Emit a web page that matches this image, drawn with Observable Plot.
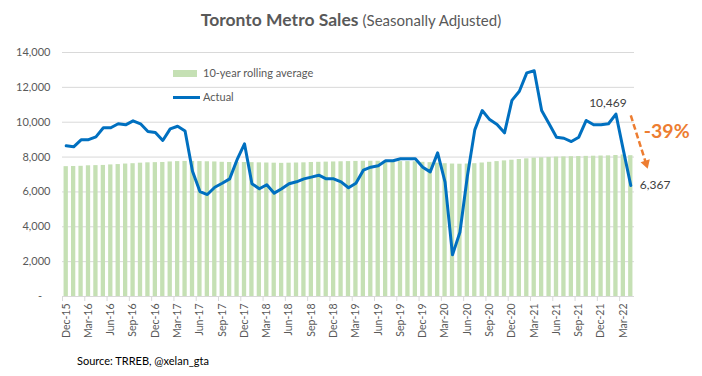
<!DOCTYPE html>
<html>
<head>
<meta charset="utf-8">
<script src="https://cdn.jsdelivr.net/npm/d3@7"></script>
<script src="https://cdn.jsdelivr.net/npm/@observablehq/plot@0.6"></script>
<style>
  html, body { margin: 0; padding: 0; background: #fff; }
  #wrap { position: relative; width: 702px; height: 376px; font-family: Lato, "Open Sans", sans-serif; color: #595959; overflow: hidden; }
  #title { position: absolute; left: 0; width: 702px; top: 9px; text-align: center; white-space: nowrap; }
  #title b { font-size: 17.5px; font-weight: 700; }
  #title span { font-size: 15px; }
  .leg { position: absolute; font-size: 11px; line-height: 14px; color: #595959; white-space: nowrap; }
  #caption { position: absolute; left: 77px; top: 354px; font-size: 11px; color: #000; white-space: nowrap; }
</style>
</head>
<body>
<div id="wrap">
  <div id="chart"></div>
  <div id="title"><b>Toronto Metro Sales</b> <span>(Seasonally Adjusted)</span></div>
  <div class="leg" style="left:173px;top:70px;width:24px;height:7px;background:#c5e0b4"></div>
  <div class="leg" style="left:203px;top:66px">10-year rolling average</div>
  <div class="leg" style="left:173px;top:96px;width:27px;height:3px;background:#0070c0"></div>
  <div class="leg" style="left:203px;top:90px">Actual</div>
  <div id="caption">Source: TRREB, @xelan_gta</div>
</div>
<script>
// Monthly, Dec-15 .. Apr-22 (77 months)
const tickLabels = ["Dec-15","Mar-16","Jun-16","Sep-16","Dec-16","Mar-17","Jun-17","Sep-17","Dec-17","Mar-18","Jun-18","Sep-18","Dec-18","Mar-19","Jun-19","Sep-19","Dec-19","Mar-20","Jun-20","Sep-20","Dec-20","Mar-21","Jun-21","Sep-21","Dec-21","Mar-22"];

const actual = [
  8650, 8590, 8990, 9000, 9160, 9680, 9680, 9910, 9850, 10080,
  9910, 9470, 9410, 8950, 9620, 9770, 9500, 7190, 6020, 5850,
  6270, 6500, 6750, 7850, 8760, 6470, 6180, 6410, 5930, 6180,
  6470, 6580, 6750, 6850, 6960, 6750, 6750, 6580, 6240, 6500,
  7250, 7420, 7500, 7790, 7790, 7900, 7900, 7900, 7420, 7150,
  8240, 6560, 2390, 3690, 6900, 9560, 10670, 10150, 9870, 9390,
  11250, 11780, 12830, 12950, 10670, 9910, 9140, 9080, 8890, 9140,
  10100, 9850, 9850, 9910, 10469, 8400, 6367
];

const rollingAvg = [
  7450, 7460, 7470, 7500, 7510, 7520, 7550, 7570, 7600, 7620,
  7650, 7670, 7680, 7690, 7720, 7740, 7750, 7750, 7740, 7730,
  7720, 7700, 7690, 7690, 7690, 7680, 7670, 7660, 7650, 7640,
  7650, 7660, 7670, 7690, 7700, 7710, 7720, 7730, 7740, 7750,
  7760, 7760, 7760, 7750, 7750, 7740, 7740, 7730, 7700, 7680,
  7650, 7620, 7600, 7590, 7600, 7620, 7660, 7700, 7740, 7780,
  7820, 7860, 7900, 7940, 7960, 7980, 8000, 8010, 8020, 8030,
  8040, 8050, 8060, 8070, 8090, 8120, 8080
];

const yTicks = [0, 2000, 4000, 6000, 8000, 10000, 12000, 14000];

const data = actual.map((v, i) => ({i, actual: v, avg: rollingAvg[i]}));
const tickPos = tickLabels.map((_, k) => k * 3);
const lastIdx = actual.length - 1;
const peakIdx = lastIdx - 2;
const peak = actual[peakIdx], last = actual[lastIdx];
const changeText = d3.format(".0%")(last / peak - 1).replace("\u2212", "-");
const fmt = d3.format(",");
const arrowData = [{x1: lastIdx, y1: peak - 80, x2: lastIdx + 2.05, y2: last + (peak - last) * 0.31}];

const chart = Plot.plot({
  width: 702,
  height: 376,
  marginTop: 52,
  marginBottom: 80,
  marginLeft: 62,
  marginRight: 68,
  x: {type: "linear", domain: [-0.5, actual.length - 0.5], label: null},
  y: {domain: [0, 14000], label: null},
  style: {fontFamily: "Lato, 'Open Sans', sans-serif", fontSize: "11px", color: "#595959", background: "white", overflow: "visible"},
  marks: [
    Plot.gridY({ticks: yTicks, stroke: "#d9d9d9", strokeOpacity: 1, strokeWidth: 1}),
    Plot.rectY(data, {x1: d => d.i - 0.29, x2: d => d.i + 0.29, y: "avg", fill: "#c5e0b4"}),
    Plot.ruleY([0], {stroke: "#d9d9d9", strokeWidth: 1}),
    Plot.line(data, {x: "i", y: "actual", stroke: "#0070c0", strokeWidth: 3, strokeLinejoin: "round", strokeLinecap: "round"}),
    Plot.axisY({ticks: yTicks, tickSize: 0, tickPadding: 12, fill: "#595959",
      tickFormat: d => d === 0 ? "-\u00a0\u00a0\u00a0" : fmt(d)}),
    Plot.axisX({ticks: tickPos.map(i => i - 0.5), tickSize: 5, tickFormat: () => "", stroke: "#d9d9d9"}),
    Plot.axisX({ticks: tickPos, tickFormat: i => tickLabels[Math.round(i / 3)], tickRotate: -90, tickSize: 0, tickPadding: 7, fill: "#595959", fontSize: 10.5}),
    Plot.text([data[peakIdx]], {x: "i", y: "actual", text: d => fmt(d.actual), dx: -8, dy: -11, fontSize: 12, fill: "#404040"}),
    Plot.text([data[lastIdx]], {x: "i", y: "actual", text: d => fmt(d.actual), dx: 9, textAnchor: "start", fontSize: 12, fill: "#404040"}),
    Plot.text([{x: lastIdx, y: peak - (peak - last) * 0.25}], {x: "x", y: "y", text: () => changeText, dx: 13, textAnchor: "start", fontSize: 19.5, fontWeight: 700, fill: "#ed7d31"}),
    Plot.link(arrowData, {x1: "x1", y1: "y1", x2: "x2", y2: "y2", stroke: "#ed7d31", strokeWidth: 2.5, strokeDasharray: "6,3"}),
    Plot.dot(arrowData, {x: "x2", y: "y2", symbol: "triangle", r: 3.6, fill: "#ed7d31", stroke: "none", rotate: 162.6})
  ]
});
document.getElementById("chart").appendChild(chart);
</script>
</body>
</html>
